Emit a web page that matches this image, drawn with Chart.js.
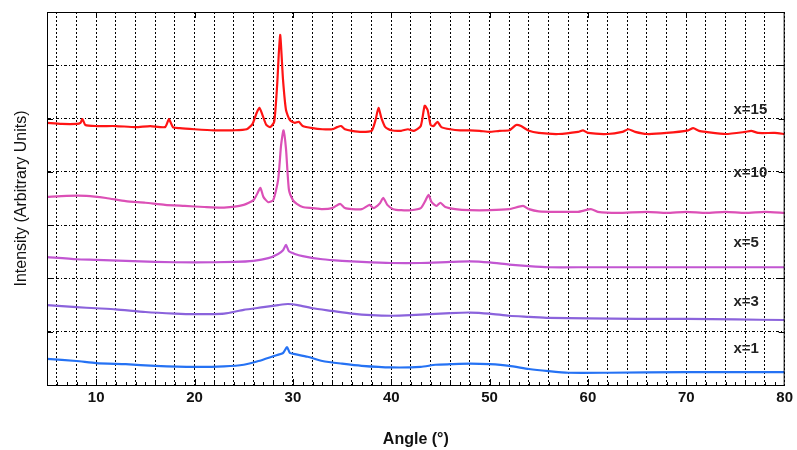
<!DOCTYPE html>
<html>
<head>
<meta charset="utf-8">
<script src="https://cdn.jsdelivr.net/npm/chart.js@4"></script>
<style>
  html, body { margin: 0; padding: 0; background: #fff; }
  #wrap { width: 797px; height: 450px; }
</style>
</head>
<body>
<div id="wrap"><canvas id="xrd"></canvas></div>
<script>
// x = 15
const angle15 = [5, 6.5, 8, 8.4, 8.6, 8.9, 10, 12, 14, 15.5, 17, 17.4, 17.8, 18.5, 20, 22, 24, 25.3, 25.9, 26.3, 26.6, 26.9, 27.3, 27.7, 28.1, 28.4, 28.7, 29, 29.3, 29.7, 30.2, 30.6, 31, 32, 33, 34, 34.5, 34.9, 35.3, 36, 37, 38, 38.4, 38.7, 39, 39.4, 40, 41, 41.7, 42.3, 43, 43.4, 43.7, 44, 44.3, 44.7, 45.1, 46, 47, 48, 49, 50, 51, 52, 52.7, 53.2, 54, 55, 57, 59, 59.5, 60, 62, 63.5, 64.1, 64.8, 66, 68, 70.2, 70.7, 71.3, 72, 74, 76, 76.6, 77.3, 79, 80];
const int15 = [4.92, 4.90, 4.90, 4.92, 4.99, 4.88, 4.86, 4.86, 4.84, 4.86, 4.84, 4.99, 4.84, 4.82, 4.80, 4.78, 4.78, 4.80, 4.90, 5.10, 5.20, 5.07, 4.88, 4.84, 4.94, 5.63, 6.57, 5.72, 5.16, 4.97, 4.92, 4.94, 4.86, 4.82, 4.80, 4.80, 4.84, 4.86, 4.80, 4.77, 4.75, 4.77, 4.97, 5.20, 5.01, 4.84, 4.78, 4.77, 4.80, 4.77, 4.86, 5.24, 5.16, 4.88, 4.86, 4.94, 4.84, 4.80, 4.78, 4.78, 4.77, 4.75, 4.77, 4.78, 4.88, 4.86, 4.77, 4.73, 4.71, 4.75, 4.78, 4.73, 4.71, 4.75, 4.80, 4.75, 4.71, 4.73, 4.78, 4.82, 4.77, 4.75, 4.71, 4.75, 4.77, 4.73, 4.73, 4.71];

// x = 10
const angle10 = [5, 7, 9, 11, 13, 15, 17, 19, 21, 23, 25, 26, 26.4, 26.7, 27, 27.5, 28, 28.5, 28.8, 29.05, 29.3, 29.6, 30, 30.4, 31, 32, 33, 34, 34.8, 35.3, 36, 37, 37.8, 38.2, 38.8, 39.2, 39.6, 40.2, 41, 42, 43, 43.5, 43.8, 44.1, 44.6, 45, 45.5, 46.5, 48, 50, 52, 53.4, 54, 55, 57, 59, 60.3, 61, 63, 66, 68, 70, 72, 74, 76, 78, 80];
const int10 = [3.53, 3.55, 3.55, 3.51, 3.45, 3.42, 3.38, 3.36, 3.34, 3.33, 3.38, 3.47, 3.60, 3.70, 3.53, 3.43, 3.47, 3.85, 4.50, 4.78, 4.43, 3.66, 3.47, 3.40, 3.34, 3.32, 3.30, 3.32, 3.40, 3.32, 3.30, 3.30, 3.38, 3.32, 3.40, 3.51, 3.38, 3.30, 3.28, 3.28, 3.32, 3.47, 3.57, 3.43, 3.36, 3.42, 3.34, 3.30, 3.28, 3.28, 3.30, 3.36, 3.30, 3.26, 3.25, 3.25, 3.30, 3.25, 3.23, 3.25, 3.23, 3.25, 3.23, 3.25, 3.23, 3.25, 3.23];

// x = 5
const angle5 = [5, 8, 10, 13, 16, 20, 24, 26, 27.5, 28.5, 29, 29.3, 29.6, 30.2, 31, 33, 35, 37, 40, 43, 46, 48, 50, 52, 54, 56, 60, 65, 70, 75, 80];
const int5 = [2.40, 2.36, 2.35, 2.33, 2.31, 2.30, 2.31, 2.33, 2.38, 2.46, 2.53, 2.63, 2.51, 2.46, 2.42, 2.36, 2.33, 2.31, 2.29, 2.29, 2.31, 2.32, 2.30, 2.26, 2.23, 2.21, 2.21, 2.21, 2.21, 2.21, 2.21];

// x = 3
const angle3 = [5, 8, 10, 12, 15, 18, 20, 23, 25, 27, 28.5, 29.5, 30.5, 32, 34, 36, 38, 40, 42, 44, 46, 48, 50, 52, 54, 56, 60, 65, 70, 75, 80];
const int3 = [1.50, 1.46, 1.44, 1.42, 1.37, 1.34, 1.33, 1.34, 1.41, 1.46, 1.50, 1.52, 1.50, 1.44, 1.39, 1.34, 1.31, 1.30, 1.31, 1.33, 1.35, 1.36, 1.34, 1.30, 1.28, 1.26, 1.25, 1.24, 1.24, 1.23, 1.22];

// x = 1
const angle1 = [5, 8, 10, 13, 16, 20, 23, 25, 26.5, 28, 29, 29.4, 29.7, 30.2, 31.5, 33, 35, 37, 40, 43, 44.5, 46, 48, 50, 52, 54, 56, 58, 62, 70, 80];
const int1 = [0.49, 0.45, 0.41, 0.39, 0.36, 0.34, 0.35, 0.38, 0.45, 0.54, 0.60, 0.71, 0.60, 0.58, 0.53, 0.45, 0.40, 0.36, 0.33, 0.34, 0.38, 0.39, 0.40, 0.39, 0.36, 0.30, 0.26, 0.23, 0.23, 0.24, 0.24];

const seriesNames = ['x=15', 'x=10', 'x=5', 'x=3', 'x=1'];
const seriesColors = ['#ff1414', '#dc50b6', '#c256d2', '#8b63dc', '#2572f4'];
const labelLevels = [5.16, 3.98, 2.66, 1.56, 0.68];
const labelAngle = 75;

const xGrid = [];
for (let a = 6; a <= 80; a += 2) xGrid.push(a);

function pts(xs, ys) {
  return xs.map((x, i) => ({ x: x, y: ys[i] }));
}
const seriesData = [pts(angle15, int15), pts(angle10, int10), pts(angle5, int5), pts(angle3, int3), pts(angle1, int1)];

// frame, inward tick marks and the x= labels
const decor = {
  id: 'decor',
  afterDatasetsDraw(chart) {
    const ctx = chart.ctx;
    const a = chart.chartArea;
    const xs = chart.scales.x, ys = chart.scales.y;
    ctx.save();
    ctx.strokeStyle = '#000';
    ctx.lineWidth = 1;
    ctx.setLineDash([]);
    ctx.strokeRect(a.left + 0.5, a.top + 0.5, a.right - a.left - 1, a.bottom - a.top);
    ctx.beginPath();
    for (let v = 1; v <= 6; v++) {
      const y = Math.round(ys.getPixelForValue(v)) + 0.5;
      ctx.moveTo(a.left, y); ctx.lineTo(a.left + 6, y);
      ctx.moveTo(a.right, y); ctx.lineTo(a.right - 6, y);
    }
    for (let v = 10; v < 80; v += 10) {
      const x = Math.round(xs.getPixelForValue(v)) + 0.5;
      ctx.moveTo(x, a.top); ctx.lineTo(x, a.top + 6);
      ctx.moveTo(x, a.bottom); ctx.lineTo(x, a.bottom - 6);
    }
    for (let v = 6; v < 80; v++) {
      const x = Math.round(xs.getPixelForValue(v)) + 0.5;
      ctx.moveTo(x, a.bottom); ctx.lineTo(x, a.bottom - 3);
    }
    ctx.stroke();

    ctx.fillStyle = '#222';
    ctx.font = 'bold 15px "Liberation Sans", Arial, sans-serif';
    ctx.textBaseline = 'middle';
    ctx.textAlign = 'left';
    seriesNames.forEach((name, i) => {
      ctx.fillText(name, xs.getPixelForValue(labelAngle) - 2, ys.getPixelForValue(labelLevels[i]));
    });
    ctx.restore();
  }
};

new Chart(document.getElementById('xrd'), {
  type: 'line',
  data: {
    datasets: seriesNames.map((name, i) => ({
      label: name,
      data: seriesData[i],
      borderColor: seriesColors[i],
      borderWidth: 2.2,
      pointRadius: 0,
      tension: 0.2,
      fill: false
    }))
  },
  options: {
    responsive: true,
    maintainAspectRatio: false,
    animation: false,
    layout: { padding: { top: 12, right: 6, left: 0, bottom: 0 } },
    plugins: { legend: { display: false }, tooltip: { enabled: false } },
    scales: {
      x: {
        type: 'linear',
        min: 5,
        max: 80,
        afterBuildTicks: (scale) => { scale.ticks = xGrid.map(v => ({ value: v })); },
        afterFit: (scale) => { scale.height = 65; },
        ticks: {
          autoSkip: false,
          maxRotation: 0,
          padding: 4,
          color: '#111',
          font: { family: '"Liberation Sans", Arial, sans-serif', size: 15, weight: 'bold' },
          callback: (v) => (v % 10 === 0 ? String(v) : '')
        },
        grid: { color: '#000', lineWidth: 1, drawTicks: false },
        border: { display: true, color: '#000', width: 1, dash: [2, 2] },
        title: {
          display: true,
          text: 'Angle (°)',
          color: '#111',
          padding: { top: 0, bottom: 1 },
          font: { family: '"Liberation Sans", Arial, sans-serif', size: 16, weight: 'bold' }
        }
      },
      y: {
        type: 'linear',
        min: 0,
        max: 7,
        afterFit: (scale) => { scale.width = 47; },
        ticks: { display: false, stepSize: 1 },
        grid: { color: '#000', lineWidth: 1, drawTicks: false },
        border: { display: true, color: '#000', width: 1, dash: [3, 2, 1, 2] },
        title: {
          display: true,
          text: 'Intensity (Arbitrary Units)',
          color: '#111',
          padding: { top: 12, bottom: 0 },
          font: { family: '"Liberation Sans", Arial, sans-serif', size: 16 }
        }
      }
    }
  },
  plugins: [decor]
});
</script>
</body>
</html>
